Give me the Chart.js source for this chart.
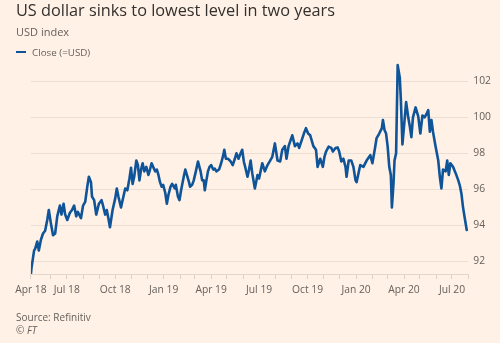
<!DOCTYPE html>
<html><head><meta charset="utf-8">
<script src="https://cdn.jsdelivr.net/npm/chart.js@4.4.1/dist/chart.umd.min.js"></script>
<style>
html,body{margin:0;padding:0;background:#fff1e5;}
#wrap{position:relative;width:500px;height:343px;overflow:hidden;background:#fff1e5;font-family:"Open Sans",sans-serif;}
#c{position:absolute;left:0;top:0;width:500px;height:343px;}
.t{position:absolute;white-space:nowrap;}
#title{left:16px;top:0px;font-size:16.3px;line-height:21px;color:#33302e;}
#sub{left:16px;top:24px;font-size:11px;line-height:16px;color:#66605c;}
#legline{position:absolute;left:16px;top:51px;width:10px;height:2.4px;background:#0f5499;}
#leg{left:32px;top:46px;font-size:9.8px;line-height:14px;color:#66605c;}
#src{left:16px;top:310px;font-size:10px;line-height:15px;color:#66605c;}
#ft{left:16px;top:323px;font-size:10px;line-height:15px;color:#66605c;font-style:italic;}
</style></head><body>
<div id="wrap">
<canvas id="c" width="500" height="343"></canvas>
<div class="t" id="title">US dollar sinks to lowest level in two years</div>
<div class="t" id="sub">USD index</div>
<div id="legline"></div>
<div class="t" id="leg">Close (=USD)</div>
<div class="t" id="src">Source: Refinitiv</div>
<div class="t" id="ft">© FT</div>
</div>
<script>
const dates = [
"2018-04-24","2018-04-25","2018-04-30","2018-05-02","2018-05-06","2018-05-09","2018-05-13","2018-05-17","2018-05-21","2018-05-25",
"2018-05-28","2018-06-01","2018-06-05","2018-06-09","2018-06-13","2018-06-18","2018-06-21","2018-06-25","2018-06-28","2018-07-02",
"2018-07-07","2018-07-11","2018-07-15","2018-07-19","2018-07-22","2018-07-28","2018-08-01","2018-08-05","2018-08-09","2018-08-12",
"2018-08-16","2018-08-18","2018-08-22","2018-08-26","2018-08-31",
"2018-09-05","2018-09-07","2018-09-12","2018-09-15","2018-09-18","2018-09-21","2018-09-26","2018-10-01","2018-10-04","2018-10-07",
"2018-10-12","2018-10-15","2018-10-20","2018-10-24","2018-10-28","2018-10-31","2018-11-03","2018-11-06","2018-11-10","2018-11-13",
"2018-11-16","2018-11-19","2018-11-22","2018-11-25","2018-11-29","2018-12-03","2018-12-06","2018-12-09","2018-12-12","2018-12-16",
"2018-12-19","2018-12-22","2018-12-25","2018-12-28","2018-12-31","2019-01-04","2019-01-07","2019-01-10","2019-01-14",
"2019-01-17","2019-01-22","2019-01-24","2019-01-28","2019-01-31","2019-02-03","2019-02-08","2019-02-11","2019-02-14","2019-02-18",
"2019-02-20","2019-02-24","2019-02-27","2019-03-03","2019-03-07","2019-03-12","2019-03-15","2019-03-18","2019-03-20","2019-03-23",
"2019-03-26","2019-03-29","2019-04-01","2019-04-05","2019-04-08","2019-04-11","2019-04-16","2019-04-20","2019-04-24","2019-04-26",
"2019-04-29","2019-05-03","2019-05-08","2019-05-12","2019-05-16","2019-05-19","2019-05-23","2019-05-27","2019-05-30","2019-06-02",
"2019-06-05","2019-06-09",
"2019-06-12","2019-06-15","2019-06-18","2019-06-23","2019-06-28","2019-07-01","2019-07-07","2019-07-12","2019-07-17","2019-07-22",
"2019-07-26","2019-07-31","2019-08-05","2019-08-10","2019-08-14","2019-08-19","2019-08-22","2019-08-26","2019-08-30","2019-09-02",
"2019-09-07","2019-09-12","2019-09-15","2019-09-19","2019-09-24","2019-09-28","2019-10-02","2019-10-06","2019-10-12","2019-10-17",
"2019-10-20",
"2019-10-25","2019-10-30","2019-11-02","2019-11-05","2019-11-10","2019-11-15","2019-11-18","2019-11-23","2019-11-27","2019-11-30",
"2019-12-04","2019-12-08","2019-12-12","2019-12-14","2019-12-18","2019-12-23","2019-12-27","2019-12-31","2020-01-02","2020-01-09",
"2020-01-15","2020-01-21","2020-01-28","2020-02-01","2020-02-06","2020-02-09","2020-02-14","2020-02-19","2020-02-21","2020-02-24",
"2020-02-27","2020-03-01","2020-03-04","2020-03-07","2020-03-09","2020-03-12","2020-03-14","2020-03-17","2020-03-20","2020-03-24",
"2020-03-26","2020-03-29","2020-04-01","2020-04-05","2020-04-09","2020-04-12","2020-04-15","2020-04-18","2020-04-23","2020-04-28",
"2020-05-02","2020-05-06","2020-05-10","2020-05-14","2020-05-17","2020-05-20","2020-05-23","2020-05-26","2020-05-31","2020-06-05",
"2020-06-08","2020-06-11","2020-06-14","2020-06-19","2020-06-22","2020-06-25","2020-06-28","2020-07-03","2020-07-08","2020-07-13",
"2020-07-16","2020-07-19","2020-07-22","2020-07-25","2020-07-29"
];
const closeUSD = [
91.3,91.6,92.6,92.7,93.1,92.6,93.2,93.55,93.7,94.3,
94.85,94.1,93.45,93.55,94.5,95.1,94.6,95.2,94.6,94.3,
94.7,94.85,95.1,94.5,94.75,94.4,95.1,95.3,96.15,96.7,
96.4,95.6,95.4,94.6,95.2,
95.4,95.2,94.6,94.85,94.4,93.9,94.85,95.5,96.05,95.6,
95.0,95.4,96.05,95.95,96.6,97.2,96.3,96.7,97.6,97.35,
96.5,97.1,97.45,97.0,97.25,96.8,97.1,97.45,97.25,97.0,
97.1,96.8,96.4,96.15,96.25,95.8,95.2,95.7,96.15,
96.3,96.05,96.25,95.6,95.4,95.95,96.7,97.1,96.8,96.4,
96.15,96.25,96.5,97.0,97.55,97.0,96.5,96.5,95.95,96.5,
97.0,97.25,97.35,97.1,97.15,97.0,97.1,97.45,97.9,98.2,
97.7,97.7,97.55,97.35,97.7,98.0,97.7,98.0,98.2,97.55,
97.2,96.7,
97.1,97.6,96.9,96.05,96.8,96.6,97.45,97.0,97.35,97.6,
97.8,98.55,97.6,97.55,98.2,98.4,97.7,98.4,98.75,99.0,
98.4,98.55,98.3,98.65,99.1,99.4,99.1,99.0,98.4,98.2,
97.25,
97.7,97.25,97.8,98.1,98.37,98.3,98.1,98.3,98.33,98.1,
97.55,97.7,97.25,96.7,97.6,97.6,97.25,96.5,96.4,97.35,
97.25,97.6,97.9,97.45,98.3,98.85,99.1,99.4,99.85,99.3,
99.1,98.37,97.25,96.8,95.0,96.3,97.6,98.0,102.9,102.2,
101.0,98.5,99.5,100.85,100.0,99.5,98.9,100.0,100.55,100.05,
99.1,100.1,100.0,100.2,100.4,99.2,99.85,99.2,98.37,97.6,
96.7,96.05,97.1,97.0,97.6,96.8,97.45,97.25,96.9,96.5,
96.2,95.75,95.0,94.45,93.74
];
const xTickDates = [
"2018-04-24","2018-06-01","2018-07-01","2018-08-01","2018-09-01","2018-10-01","2018-11-01","2018-12-01",
"2019-01-01","2019-02-01","2019-03-01","2019-04-01","2019-05-01","2019-06-01","2019-07-01","2019-08-01",
"2019-09-01","2019-10-01","2019-11-01","2019-12-01","2020-01-01","2020-02-01","2020-03-01","2020-04-01",
"2020-05-01","2020-06-01","2020-07-01","2020-08-01"
];
const xTickLabels = [
"Apr 18","","Jul 18","","","Oct 18","","",
"Jan 19","","","Apr 19","","","Jul 19","",
"","Oct 19","","","Jan 20","","","Apr 20",
"","","Jul 20",""
];
const yTicks = [92,94,96,98,100,102];
const xStart = "2018-04-24", xEnd = "2020-08-01";

const dayOf = s => Date.UTC(+s.slice(0,4), +s.slice(5,7)-1, +s.slice(8,10)) / 86400000;
const points = dates.map((d,i) => ({x: dayOf(d), y: closeUSD[i]}));
const tickFont = {family: '"Open Sans", sans-serif', size: 10.3};
const tickColor = '#66605c';

new Chart(document.getElementById('c'), {
  type: 'line',
  data: { datasets: [{
    label: 'Close (=USD)', data: points,
    borderColor: '#0f5499', borderWidth: 2.6, pointRadius: 0, tension: 0,
    borderJoinStyle: 'round', borderCapStyle: 'round', fill: false
  }]},
  options: {
    responsive: false, animation: false, devicePixelRatio: 1,
    layout: { padding: {left: 30.9, right: 0, top: 61.5, bottom: 0} },
    plugins: { legend: {display: false}, tooltip: {enabled: false}, title: {display: false} },
    scales: {
      x: {
        type: 'linear', min: dayOf(xStart), max: dayOf(xEnd),
        afterBuildTicks: s => { s.ticks = xTickDates.map(d => ({value: dayOf(d)})); },
        afterFit: s => { s.height = 69; },
        ticks: { autoSkip: false, maxRotation: 0, minRotation: 0, padding: 5, color: tickColor, font: tickFont,
          callback: (v, i) => xTickLabels[i] },
        grid: { drawOnChartArea: false, drawTicks: true, tickLength: 5, color: '#ddd0c5', lineWidth: 1 },
        border: { display: true, color: '#e3d6cb', width: 1 }
      },
      y: {
        position: 'right', min: 91.3, max: 103.1,
        afterBuildTicks: s => { s.ticks = yTicks.map(v => ({value: v})); },
        afterFit: s => { s.width = 31.7; },
        ticks: { padding: 5, color: tickColor, font: tickFont, callback: v => String(v) },
        grid: { drawTicks: false, color: '#ebdfd5', lineWidth: 1 },
        border: { display: false }
      }
    }
  }
});
</script>
</body></html>
